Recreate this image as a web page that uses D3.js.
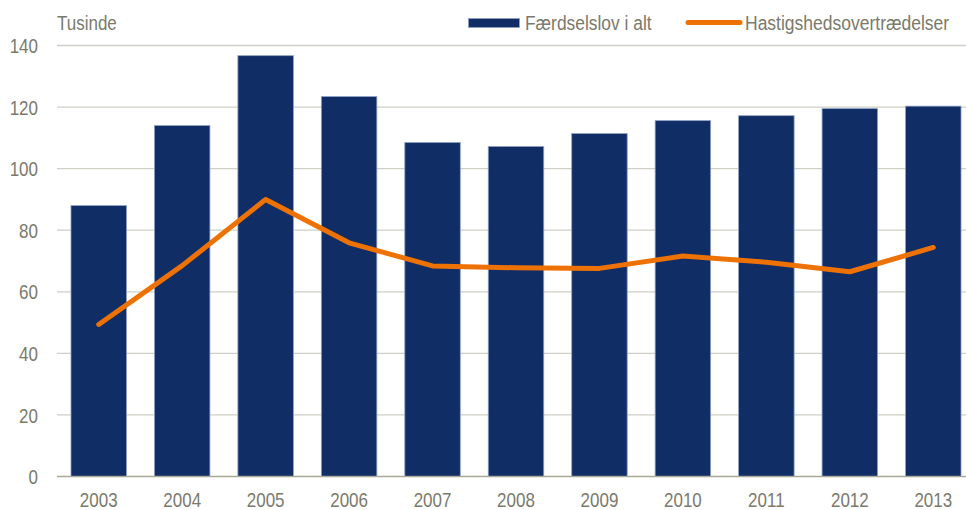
<!DOCTYPE html>
<html><head><meta charset="utf-8">
<script src="https://cdn.jsdelivr.net/npm/d3@7"></script>
<style>
html,body{margin:0;padding:0;background:#fff;}
svg{display:block;}
text{font-family:"Liberation Sans Narrow","Arial Narrow","Liberation Sans",Arial,sans-serif;fill:#7a7a6c;}
</style></head>
<body>
<svg id="c" width="966" height="510"></svg>
<script>
const years = ["2003","2004","2005","2006","2007","2008","2009","2010","2011","2012","2013"];
const totalValues = [88.0, 114.0, 136.7, 123.4, 108.5, 107.2, 111.4, 115.6, 117.2, 119.5, 120.3];
const speedValues = [49.4, 68.5, 90.0, 75.9, 68.4, 67.8, 67.6, 71.6, 69.6, 66.5, 74.4];
const yTicks = [0, 20, 40, 60, 80, 100, 120, 140];
const seriesNames = ["Færdselslov i alt", "Hastigshedsovertrædelser"];
const unitLabel = "Tusinde";

(function () {
const svg = d3.select("#c");
const pLeft = 57, pRight = 975, pTop = 45.5, pBottom = 476.5;
const FONT = '"Liberation Sans",Arial,sans-serif';
const TXT = "#7a7a6c";
const SX = 0.85;

const x = d3.scaleBand().domain(years).range([pLeft, pRight]).paddingInner(0.335).paddingOuter(0.1675);
const y = d3.scaleLinear().domain([0, 140]).range([pBottom, pTop]);

// gridlines
svg.append("g").selectAll("line").data(yTicks.filter(d => d > 0)).join("line")
  .attr("x1", pLeft).attr("x2", 966)
  .attr("y1", d => y(d)).attr("y2", d => y(d))
  .attr("stroke", "#cfcfc6").attr("stroke-width", 1.3);

// y axis labels
const yAxis = d3.axisLeft(y).tickValues(yTicks).tickSize(0).tickPadding(0);
const gy = svg.append("g").attr("transform", `translate(38,0)`).call(yAxis);
gy.select(".domain").remove();
gy.selectAll("text").attr("font-size", 20).attr("dy", "0.36em")
  .attr("transform", `scale(${SX},1)`)
  .style("font-family", FONT).attr("fill", TXT);

// bars
svg.append("g").selectAll("rect").data(years).join("rect")
  .attr("x", d => x(d)).attr("width", x.bandwidth())
  .attr("y", (d, i) => y(totalValues[i]))
  .attr("height", (d, i) => y(0) - y(totalValues[i]))
  .attr("fill", "#112d66").attr("stroke", "#8fa1c6").attr("stroke-width", 0.8);

// baseline
svg.append("line").attr("x1", pLeft).attr("x2", 966).attr("y1", y(0)).attr("y2", y(0))
  .attr("stroke", "#a9a998").attr("stroke-width", 1.3);

// x axis labels
const xAxis = d3.axisBottom(x).tickSize(0).tickPadding(0);
const gx = svg.append("g").attr("transform", `translate(0,${y(0)})`).call(xAxis);
gx.select(".domain").remove();
gx.selectAll("text").attr("font-size", 20).attr("dy", null).attr("y", 30.5)
  .attr("transform", `scale(${SX},1)`)
  .style("font-family", FONT).attr("fill", TXT);

// line
const line = d3.line().x((d, i) => x(years[i]) + x.bandwidth() / 2).y(d => y(d));
svg.append("path").datum(speedValues).attr("d", line)
  .attr("fill", "none").attr("stroke", "#ee7203").attr("stroke-width", 5)
  .attr("stroke-linecap", "round").attr("stroke-linejoin", "round");

function label(xp, yp, str, sx) {
  svg.append("text").attr("transform", `translate(${xp},${yp}) scale(${sx},1)`)
    .attr("font-size", 20).style("font-family", FONT).attr("fill", TXT).text(str);
}

// unit label
label(57, 29.5, unitLabel, SX);

// legend
svg.append("rect").attr("x", 468.5).attr("y", 18.5).attr("width", 51).attr("height", 9)
  .attr("fill", "#112d66").attr("stroke", "#8fa1c6").attr("stroke-width", 0.8);
label(525, 30, seriesNames[0], 0.87);
svg.append("line").attr("x1", 688).attr("x2", 740).attr("y1", 22.5).attr("y2", 22.5)
  .attr("stroke", "#ee7203").attr("stroke-width", 5).attr("stroke-linecap", "round");
label(745, 30, seriesNames[1], 0.875);
})();
</script>
</body></html>
